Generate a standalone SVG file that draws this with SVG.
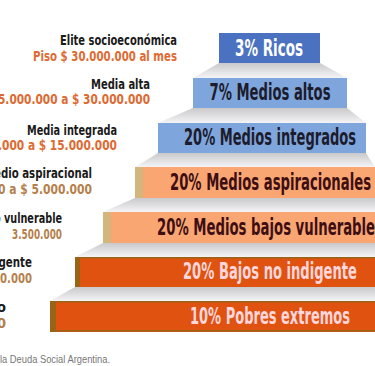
<svg xmlns="http://www.w3.org/2000/svg" width="375" height="366" viewBox="0 0 375 366">
<defs>
<linearGradient id="step" x1="0" y1="0" x2="0" y2="1">
<stop offset="0" stop-color="#c9c9cc"/>
<stop offset="1" stop-color="#f4f4f6"/>
</linearGradient>
<style>
.bt{font-family:"Liberation Sans Narrow","DejaVu Sans Condensed","Liberation Sans",sans-serif;font-weight:bold;font-size:23px;text-anchor:middle}
.lb{font-family:"Liberation Sans Narrow","DejaVu Sans Condensed","Liberation Sans",sans-serif;font-weight:bold;font-size:14.5px;text-anchor:end;fill:#1a1a1a}
.pr{font-family:"Liberation Sans Narrow","DejaVu Sans Condensed","Liberation Sans",sans-serif;font-weight:bold;font-size:14.5px;text-anchor:end;fill:#de6a32}
.pr2{fill:#b57f4c}
.blue1{fill:#4a72c1}
.blue2{fill:#7fa5dd}
.or1{fill:#f9a673}
.or2{fill:#e0520f}
.st1{fill:#d2b67e}
.st2{fill:#9a6418}
.ft{font-family:"Liberation Sans Narrow","Liberation Sans",sans-serif;font-size:10.5px;fill:#777}
</style>
</defs>
<rect width="375" height="366" fill="#ffffff"/>
<g id="connectors">
<polygon points="219,63 320,63 347,78 193,78" fill="url(#step)"/>
<polygon points="193,108 347,108 366,123 158,123" fill="url(#step)"/>
<polygon points="158,153 366,153 375,167 135,167" fill="url(#step)"/>
<polygon points="135,198 375,198 375,212 103,212" fill="url(#step)"/>
<polygon points="103,243 375,243 375,257 75,257" fill="url(#step)"/>
<polygon points="75,287 375,287 375,301 50,301" fill="url(#step)"/>
</g>
<g id="bar-ricos">
<rect class="blue1" x="219" y="33" width="101" height="30"/>
<text class="bt" x="269" y="56" fill="#ffffff" textLength="68" lengthAdjust="spacingAndGlyphs">3% Ricos</text>
</g>
<g id="bar-medios-altos">
<rect class="blue2" x="193" y="78" width="154" height="30"/>
<text class="bt" x="270" y="100" fill="#1c1c2c" textLength="121" lengthAdjust="spacingAndGlyphs">7% Medios altos</text>
</g>
<g id="bar-medios-integrados">
<rect class="blue2" x="158" y="123" width="208" height="30"/>
<text class="bt" x="270" y="145" fill="#1c1c2c" textLength="172" lengthAdjust="spacingAndGlyphs">20% Medios integrados</text>
</g>
<g id="bar-medios-aspiracionales">
<rect class="or1" x="135" y="167" width="240" height="31"/>
<rect class="st1" x="135" y="167" width="8" height="31"/>
<text class="bt" x="270.5" y="190" fill="#3d0f12" textLength="201" lengthAdjust="spacingAndGlyphs">20% Medios aspiracionales</text>
</g>
<g id="bar-medios-bajos">
<rect class="or1" x="103" y="212" width="272" height="31"/>
<rect class="st1" x="103" y="212" width="8" height="31"/>
<text class="bt" x="270" y="235" fill="#3d0f12" textLength="226" lengthAdjust="spacingAndGlyphs">20% Medios bajos vulnerables</text>
</g>
<g id="bar-bajos-no-indigente">
<rect class="or2" x="75" y="257" width="300" height="30"/>
<rect class="st2" x="75" y="257" width="5" height="30"/>
<rect class="st2" x="75" y="257" width="300" height="1.5"/>
<text class="bt" x="270" y="279" fill="#ffd6dc" textLength="174" lengthAdjust="spacingAndGlyphs">20% Bajos no indigente</text>
</g>
<g id="bar-pobres-extremos">
<rect class="or2" x="50" y="301" width="325" height="31"/>
<rect class="st2" x="50" y="301" width="6" height="31"/>
<rect class="st2" x="50" y="301" width="325" height="1.5"/>
<rect class="st2" x="50" y="330" width="325" height="1.5"/>
<text class="bt" x="270" y="324" fill="#ffd6dc" textLength="160" lengthAdjust="spacingAndGlyphs">10% Pobres extremos</text>
</g>
<g id="label-elite">
<text class="lb" x="177" y="45" textLength="117" lengthAdjust="spacingAndGlyphs">Elite socioeconómica</text>
<text class="pr" x="177" y="61" textLength="144" lengthAdjust="spacingAndGlyphs">Piso $ 30.000.000 al mes</text>
</g>
<g id="label-media-alta">
<text class="lb" x="150" y="89" textLength="59" lengthAdjust="spacingAndGlyphs">Media alta</text>
<text class="pr" x="150" y="104" textLength="152" lengthAdjust="spacingAndGlyphs">5.000.000 a $ 30.000.000</text>
</g>
<g id="label-media-integrada">
<text class="lb" x="117" y="135" textLength="90" lengthAdjust="spacingAndGlyphs">Media integrada</text>
<text class="pr" x="117" y="150" textLength="119" lengthAdjust="spacingAndGlyphs">.000 a $ 15.000.000</text>
</g>
<g id="label-medio-aspiracional">
<text class="lb" x="92" y="178" textLength="98" lengthAdjust="spacingAndGlyphs">edio aspiracional</text>
<text class="pr pr2" x="92" y="194" textLength="94" lengthAdjust="spacingAndGlyphs">0 a $ 5.000.000</text>
</g>
<g id="label-bajo-vulnerable">
<text class="lb" x="62" y="223" textLength="68" lengthAdjust="spacingAndGlyphs">o vulnerable</text>
<text class="pr pr2" x="62" y="239" textLength="50" lengthAdjust="spacingAndGlyphs">3.500.000</text>
</g>
<g id="label-no-indigente">
<text class="lb" x="32" y="267" textLength="37" lengthAdjust="spacingAndGlyphs">igente</text>
<text class="pr pr2" x="32" y="283" textLength="32" lengthAdjust="spacingAndGlyphs">0.000</text>
</g>
<g id="label-pobre-extremo">
<text class="lb" x="6" y="312">o</text>
<text class="pr pr2" x="6" y="328">0</text>
</g>
<text class="ft" x="0" y="363" textLength="110" lengthAdjust="spacingAndGlyphs">la Deuda Social Argentina.</text>
</svg>
